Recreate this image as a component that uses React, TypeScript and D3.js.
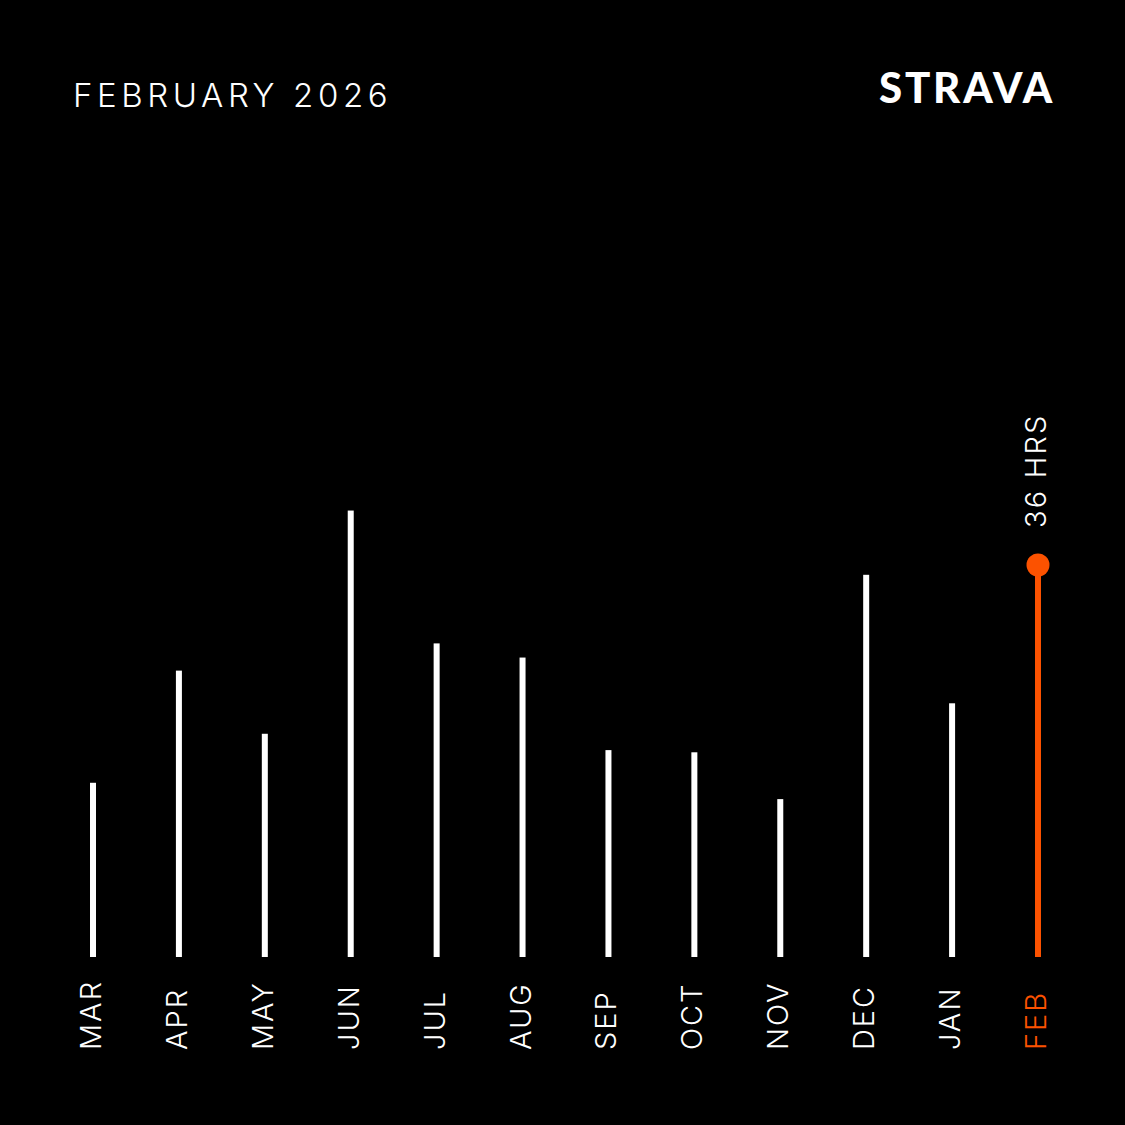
import * as d3 from "d3";

// Monthly activity hours, last 12 months
const months = ["MAR", "APR", "MAY", "JUN", "JUL", "AUG", "SEP", "OCT", "NOV", "DEC", "JAN", "FEB"];
const hours = [16, 26.3, 20.5, 41, 28.8, 27.5, 19, 18.8, 14.5, 35.1, 23.3, 36];
const title = "FEBRUARY 2026";
const unit = "HRS";

const W = 1125;
const H = 1125;
const ORANGE = "#fc5200";
const FONT = "Inter, 'Open Sans', sans-serif";

export default function App() {
  const x = d3.scalePoint<string>().domain(months).range([93, 1038]);
  const y = d3.scaleLinear().domain([0, 36]).range([957, 565]);
  const last = months.length - 1;
  const lastX = x(months[last])!;
  const lastY = y(hours[last]);

  return (
    <>
      <style>{`body{margin:0;background:#000}`}</style>
      <svg width={W} height={H} style={{ display: "block", background: "#000" }}>
        <rect width={W} height={H} fill="#000" />
        <text x={73} y={107} fill="#fff" fontFamily={FONT} fontWeight={300} fontSize={33} letterSpacing={4.6}>
          {title}
        </text>
        <text
          x={879}
          y={103}
          fill="#fff"
          fontFamily="Lato, sans-serif"
          fontWeight={900}
          fontSize={42}
          letterSpacing={2.8}
        >
          STRAVA
        </text>

        {months.map((m, i) => {
          const cx = x(m)!;
          const isLast = i === last;
          return (
            <g key={m}>
              <rect
                x={cx - 3}
                y={y(hours[i])}
                width={6}
                height={y(0) - y(hours[i])}
                fill={isLast ? ORANGE : "#fff"}
              />
              <text
                transform={`translate(${cx + 8},${1050}) rotate(-90)`}
                fill={isLast ? ORANGE : "#fff"}
                fontFamily={FONT}
                fontWeight={300}
                fontSize={29}
                letterSpacing={2}
              >
                {m}
              </text>
            </g>
          );
        })}

        <circle cx={lastX} cy={lastY} r={11.5} fill={ORANGE} />
        <text
          transform={`translate(${lastX + 8},${528}) rotate(-90)`}
          fill="#fff"
          fontFamily={FONT}
          fontWeight={300}
          fontSize={29}
          letterSpacing={2.2}
        >
          {`${Math.round(hours[last])} ${unit}`}
        </text>
      </svg>
    </>
  );
}
